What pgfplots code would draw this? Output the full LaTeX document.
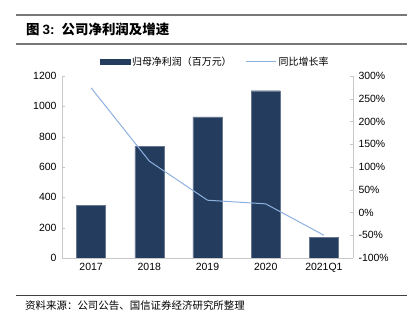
\documentclass[border=0pt]{standalone}
\usepackage{fontspec}
\setmainfont{Liberation Sans}
\newfontfamily\cjk{Noto Sans CJK SC}
\usepackage{pgfplots}
\pgfplotsset{compat=1.18}
\definecolor{barc}{RGB}{36,60,94}
\definecolor{linec}{RGB}{141,177,222}
\definecolor{axc}{RGB}{200,200,200}
\definecolor{rulec}{RGB}{120,120,120}
\begin{document}
\begin{tikzpicture}[x=1bp,y=1bp]
\path[use as bounding box] (0,0) rectangle (407,327);
\draw[rulec, line width=1.6bp] (16,312) -- (407,312);
\draw[rulec, line width=1.6bp] (16,283) -- (407,283);
\node[anchor=west, inner sep=0, font=\cjk\bfseries\fontsize{13.5}{15}\selectfont] at (26,297.5) {图 {\rmfamily\bfseries 3:}\hspace{7bp}公司净利润及增速};
\draw[black!75, line width=1bp] (16,31) -- (407,31);
\node[anchor=west, inner sep=0, font=\cjk\fontsize{10.5}{12}\selectfont] at (25,21.5) {资料来源：公司公告、国信证券经济研究所整理};

\begin{axis}[at={(62bp,69bp)}, anchor=south west, width=291bp, height=182bp, scale only axis,
  xmin=-0.5, xmax=4.5, ymin=0, ymax=1200,
  ytick={0,200,...,1200},
  /pgf/number format/assume math mode=true,
  /pgf/number format/1000 sep={},
  xtick={0,1,2,3,4}, xticklabels={2017,2018,2019,2020,2021Q1},
  minor xtick={0.5,1.5,2.5,3.5},
  axis x line*=bottom, axis y line*=left,
  axis line style={axc, line width=0.8bp},
  x axis line style={-}, y axis line style={-},
  major tick style={axc}, minor tick style={axc},
  xtick style={draw=none}, minor tick length=4bp, major tick length=3bp,
  ticklabel style={font=\fontsize{10.5}{12}\selectfont},
  yticklabel style={xshift=-2bp},
  xticklabel style={yshift=-2bp},
  legend columns=2,
  legend style={draw=none, fill=none, at={(0.526,1.077)}, anchor=center, font=\cjk\fontsize{10}{12}\selectfont,
    /tikz/every even column/.append style={column sep=12bp}},
]
\addplot[ybar, bar width=29bp, fill=barc, draw=barc!70!white, line width=0.4bp,
  legend image code/.code={\fill[barc] (0bp,-2.5bp) rectangle (30bp,2.5bp);}]
  coordinates {(0,345) (1,736) (2,931) (3,1103) (4,134)};
\addlegendentry{归母净利润（百万元）}
\addlegendimage{linec, line width=1bp, legend image code/.code={\draw[linec, line width=1bp] (0bp,0bp) -- (30bp,0bp);}}
\addlegendentry{同比增长率}
\end{axis}

\begin{axis}[at={(62bp,69bp)}, anchor=south west, width=291bp, height=182bp, scale only axis,
  xmin=-0.5, xmax=4.5, ymin=-100, ymax=300,
  ytick={-100,-50,...,300},
  yticklabels={-100\%,-50\%,0\%,50\%,100\%,150\%,200\%,250\%,300\%},
  axis y line*=right, axis x line=none,
  axis line style={axc, line width=0.8bp}, y axis line style={-},
  major tick style={axc}, major tick length=3bp,
  ticklabel style={font=\fontsize{10.5}{12}\selectfont},
  yticklabel style={anchor=west, xshift=2bp},
]
\addplot[linec, line width=1bp, mark=none] coordinates {(0,274) (1,113) (2,27) (3,19) (4,-50)};
\end{axis}
\end{tikzpicture}
\end{document}
